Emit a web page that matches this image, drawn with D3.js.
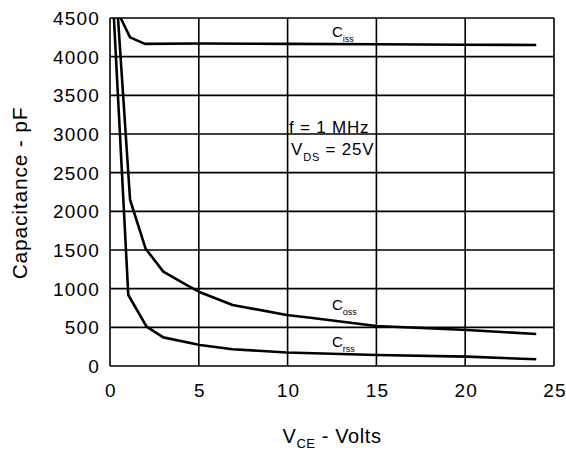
<!DOCTYPE html>
<html>
<head>
<meta charset="utf-8">
<script src="https://cdn.jsdelivr.net/npm/d3@7"></script>
<style>
  body { margin: 0; background: #fff; }
  text { font-family: "Liberation Sans", Arial, sans-serif; fill: #000; }
</style>
</head>
<body>
<div id="plot"></div>
<script>
// Capacitance vs V_CE
const xTicks = [0, 5, 10, 15, 20, 25];
const yTicks = [0, 500, 1000, 1500, 2000, 2500, 3000, 3500, 4000, 4500];

const cissV = [0.6, 1.13, 1.97, 5, 10, 15, 20, 24];
const cissC = [4500, 4250, 4165, 4170, 4165, 4160, 4155, 4150];

const cossV = [0.45, 1.13, 2.0, 3.0, 4.3, 5.0, 6.9, 9.95, 11.4, 15, 20.1, 24];
const cossC = [4500, 2150, 1520, 1220, 1048, 961, 789, 660, 620, 517, 466, 414];

const crssV = [0.22, 1.03, 2.06, 3.0, 5.07, 6.9, 9.95, 15, 20.1, 24];
const crssC = [4500, 918, 509, 370, 272, 216, 175, 142, 121, 87];

const W = 566, H = 456;
const plotL = 110, plotR = 554, plotT = 18, plotB = 366;

const svg = d3.select('#plot').append('svg').attr('width', W).attr('height', H);

const x = d3.scaleLinear().domain([0, 25]).range([plotL, plotR]);
const y = d3.scaleLinear().domain([0, 4500]).range([plotB, plotT]);

// grid
svg.append('g').selectAll('line')
  .data(xTicks)
  .enter().append('line')
  .attr('x1', d => x(d)).attr('x2', d => x(d))
  .attr('y1', plotT).attr('y2', plotB)
  .attr('stroke', '#000').attr('stroke-width', 1.6);

svg.append('g').selectAll('line')
  .data(yTicks)
  .enter().append('line')
  .attr('x1', plotL).attr('x2', plotR)
  .attr('y1', d => y(d)).attr('y2', d => y(d))
  .attr('stroke', '#000').attr('stroke-width', 1.6);

// tick labels
svg.append('g').selectAll('text')
  .data(yTicks)
  .enter().append('text')
  .attr('x', 100).attr('y', d => y(d) + 7)
  .attr('text-anchor', 'end')
  .style('font-size', '19px')
  .style('letter-spacing', '1.2px')
  .text(d => d);

svg.append('g').selectAll('text')
  .data(xTicks)
  .enter().append('text')
  .attr('x', d => x(d) + 1).attr('y', 397)
  .attr('text-anchor', 'middle')
  .style('font-size', '19px')
  .style('letter-spacing', '1.2px')
  .text(d => d);

// curves
const line = d3.line().x(d => x(d[0])).y(d => y(d[1]));
const curves = [
  d3.zip(cissV, cissC),
  d3.zip(cossV, cossC),
  d3.zip(crssV, crssC)
];
svg.append('g').selectAll('path')
  .data(curves)
  .enter().append('path')
  .attr('d', line)
  .attr('fill', 'none')
  .attr('stroke', '#000')
  .attr('stroke-width', 2.6)
  .attr('stroke-linejoin', 'round');

// curve labels
function subLabel(px, py, main, sub, size, subSize, dy) {
  const t = svg.append('text').attr('x', px).attr('y', py).style('font-size', size + 'px');
  t.append('tspan').text(main);
  t.append('tspan').attr('dy', dy).style('font-size', subSize + 'px').text(sub);
  return t;
}
subLabel(332, 37, 'C', 'iss', 15, 9, 5);
subLabel(332, 310, 'C', 'oss', 15, 9, 5);
subLabel(332, 347, 'C', 'rss', 15, 9, 5);

// conditions
svg.append('text').attr('x', 289).attr('y', 133)
  .style('font-size', '17px').style('letter-spacing', '0.8px').text('f = 1 MHz');
const vds = svg.append('text').attr('x', 291).attr('y', 155)
  .style('font-size', '17px').style('letter-spacing', '0.8px');
vds.append('tspan').text('V');
vds.append('tspan').attr('dy', 6).style('font-size', '11px').text('DS');
vds.append('tspan').attr('dy', -6).text(' = 25V');

// axis titles
svg.append('text')
  .attr('transform', 'translate(27, 193) rotate(-90)')
  .attr('text-anchor', 'middle')
  .style('font-size', '21px')
  .style('letter-spacing', '0.8px')
  .text('Capacitance - pF');

const xl = svg.append('text').attr('x', 332).attr('y', 443).attr('text-anchor', 'middle')
  .style('font-size', '20px').style('letter-spacing', '0.6px');
xl.append('tspan').text('V');
xl.append('tspan').attr('dy', 5).style('font-size', '13px').text('CE');
xl.append('tspan').attr('dy', -5).text(' - Volts');
</script>
</body>
</html>
